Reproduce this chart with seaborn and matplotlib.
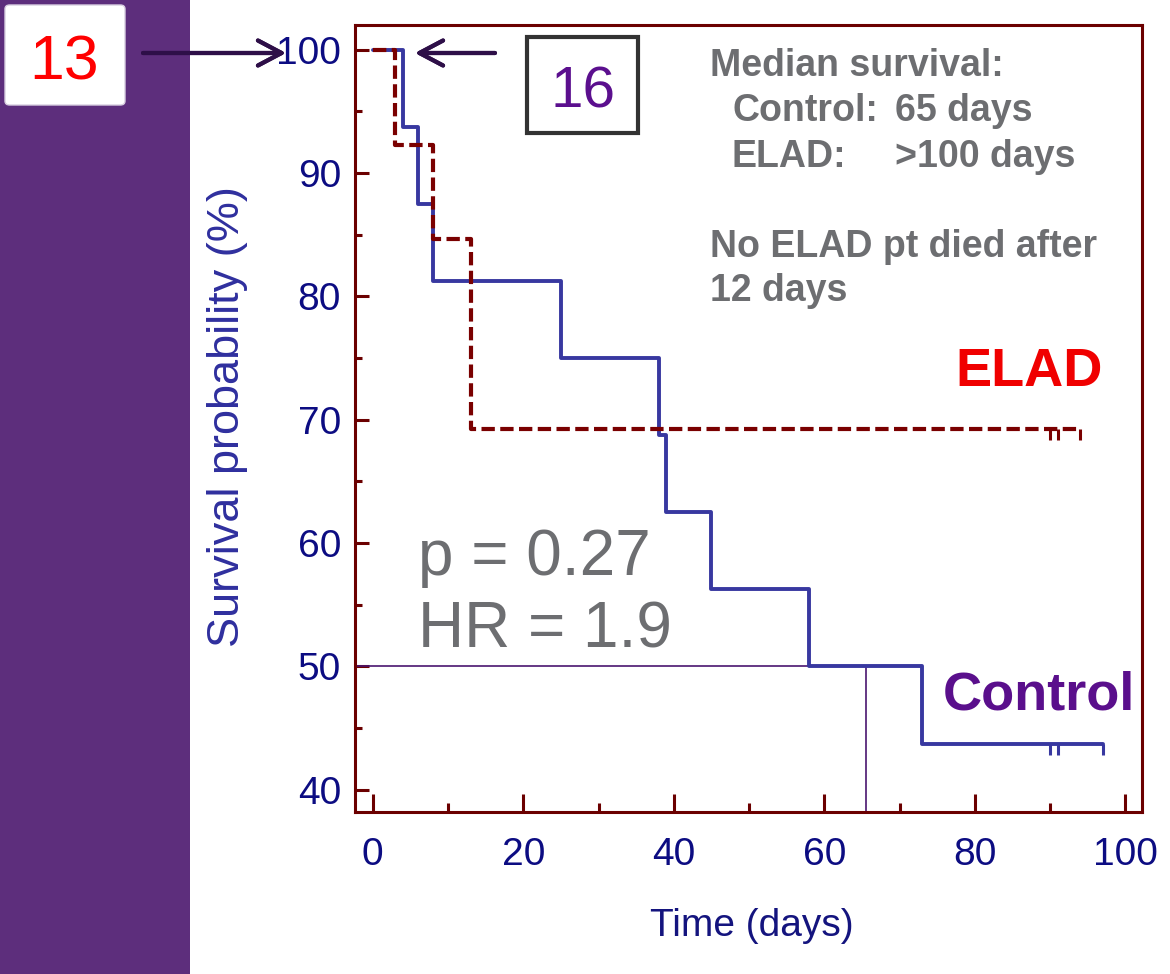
import matplotlib
matplotlib.use('Agg')
import matplotlib.pyplot as plt
from matplotlib.patches import Rectangle, FancyBboxPatch
import numpy as np
import pandas as pd
import seaborn as sns

# Kaplan-Meier steps (days, % surviving)
control_days = [0, 4, 6, 8, 25, 38, 39, 45, 58, 73, 97]
control_surv = [100, 93.75, 87.5, 81.25, 75, 68.75, 62.5, 56.25, 50, 43.75, 43.75]
control_censor = [90, 91, 97]
elad_days = [0, 3, 8, 13, 94]
elad_surv = [100, 92.31, 84.62, 69.23, 69.23]
elad_censor = [90, 91, 94]
median_control = 65.5
median_level = 50

x_ticks = [0, 20, 40, 60, 80, 100]
x_minor = [10, 30, 50, 70, 90]
y_ticks = [40, 50, 60, 70, 80, 90, 100]
y_minor = [45, 55, 65, 75, 85, 95]

W, H = 1170, 974
def fx(px):
    return px / W
def fy(py):
    return 1 - py / H

sns.set_style('white')
plt.rcParams['font.family'] = ['Liberation Sans', 'DejaVu Sans']

spine_col = '#6b0000'
tick_lab_col = '#0c0c82'
ctrl_col = '#3838a0'
elad_col = '#7a0000'
grey = '#6d6e71'

fig = plt.figure(figsize=(11.7, 9.74), dpi=100)
fig.patch.set_facecolor('white')

# purple side band
fig.add_artist(Rectangle((0, 0), fx(190), 1, transform=fig.transFigure,
                         facecolor='#5d2e7c', edgecolor='none', zorder=0))

ax = fig.add_axes([fx(355), fy(812), fx(1142 - 355), (812 - 25) / H])

df = pd.concat([
    pd.DataFrame({'day': control_days, 'surv': control_surv, 'group': 'Control'}),
    pd.DataFrame({'day': elad_days, 'surv': elad_surv, 'group': 'ELAD'}),
])

sns.lineplot(data=df, x='day', y='surv', hue='group', style='group',
             hue_order=['Control', 'ELAD'], style_order=['Control', 'ELAD'],
             palette={'Control': ctrl_col, 'ELAD': elad_col},
             dashes={'Control': '', 'ELAD': (3.2, 1.3)},
             drawstyle='steps-post', linewidth=2.8, legend=False,
             errorbar=None, sort=False, ax=ax)
ax.lines[1].set_linewidth(3.0)

# censor marks hanging below the curves
ax.vlines(control_censor, control_surv[-1] - 0.9, control_surv[-1], color=ctrl_col, lw=2.2)
ax.vlines(elad_censor, elad_surv[-1] - 0.9, elad_surv[-1], color=elad_col, lw=2.2)

ax.set_xlim(-2.35, 102.2)
ax.set_ylim(38.2, 102.0)

# median survival guide lines
ax.hlines(median_level, ax.get_xlim()[0], median_control, color='#4a1570', lw=1.2, zorder=1)
ax.vlines(median_control, ax.get_ylim()[0], median_level, color='#4a1570', lw=1.2, zorder=1)

ax.set_xticks(x_ticks)
ax.set_xticks(x_minor, minor=True)
ax.set_yticks(y_ticks)
ax.set_yticks(y_minor, minor=True)
ax.set_xlabel('')
ax.set_ylabel('')
ax.tick_params(which='both', direction='in', color=spine_col, width=2.2,
               bottom=True, left=True, top=False, right=False)
ax.tick_params(axis='x', which='major', length=13, pad=18, labelsize=28, labelcolor=tick_lab_col)
ax.tick_params(axis='x', which='minor', length=6.5)
ax.tick_params(axis='y', which='major', length=10, pad=10, labelsize=28, labelcolor=tick_lab_col)
ax.tick_params(axis='y', which='minor', length=5)
for s in ax.spines.values():
    s.set_color(spine_col)
    s.set_linewidth(2.2)
    s.set_visible(True)

fig.text(fx(228), fy(417), 'Survival probability (%)', rotation=90, ha='center', va='center',
         fontsize=32.5, color='#2f2f9e')
fig.text(fx(752), fy(936), 'Time (days)', ha='center', va='baseline',
         fontsize=28, color='#14147e')

# annotations
fig.text(fx(710), fy(76), 'Median survival:', fontsize=27, fontweight='bold', color=grey)
fig.text(fx(732), fy(121), 'Control:', fontsize=27, fontweight='bold', color=grey)
fig.text(fx(895), fy(121), '65 days', fontsize=27, fontweight='bold', color=grey)
fig.text(fx(732), fy(167), 'ELAD:', fontsize=27, fontweight='bold', color=grey)
fig.text(fx(895), fy(167), '>100 days', fontsize=27, fontweight='bold', color=grey)
fig.text(fx(710), fy(257), 'No ELAD pt died after', fontsize=27, fontweight='bold', color=grey)
fig.text(fx(710), fy(301), '12 days', fontsize=27, fontweight='bold', color=grey)

fig.text(fx(955), fy(386), 'ELAD', fontsize=39, fontweight='bold', color='#f00000')
fig.text(fx(943), fy(710), 'Control', fontsize=39, fontweight='bold', color='#5a0f8c')

fig.text(fx(418), fy(575), 'p = 0.27', fontsize=46, color=grey)
fig.text(fx(418), fy(648), 'HR = 1.9', fontsize=46, color=grey)

# numbered boxes
fig.add_artist(FancyBboxPatch((fx(5), fy(105)), fx(120), 100 / H,
                              boxstyle='round,pad=0,rounding_size=0.004',
                              transform=fig.transFigure, facecolor='white',
                              edgecolor='#d8cfe0', lw=1, zorder=1))
fig.text(fx(64), fy(80), '13', ha='center', va='baseline', fontsize=45, color='#ff0000', zorder=2)

fig.add_artist(Rectangle((fx(527), fy(133)), fx(111), 96 / H, transform=fig.transFigure,
                         facecolor='white', edgecolor='#333333', lw=3, zorder=1))
fig.text(fx(583), fy(108), '16', ha='center', va='baseline', fontsize=42, color='#5b0f8e', zorder=2)

arrow = dict(arrowstyle='->,head_length=0.85,head_width=0.45', lw=3.0, color='#2e0f48',
             mutation_scale=20, shrinkA=0, shrinkB=0)
fig.add_artist(plt.annotate('', xy=(286, H - 53), xytext=(143, H - 53),
                            xycoords='figure pixels', textcoords='figure pixels', arrowprops=arrow))
fig.add_artist(plt.annotate('', xy=(415, H - 53), xytext=(495, H - 53),
                            xycoords='figure pixels', textcoords='figure pixels', arrowprops=arrow))

fig.savefig('out.png', dpi=100)
